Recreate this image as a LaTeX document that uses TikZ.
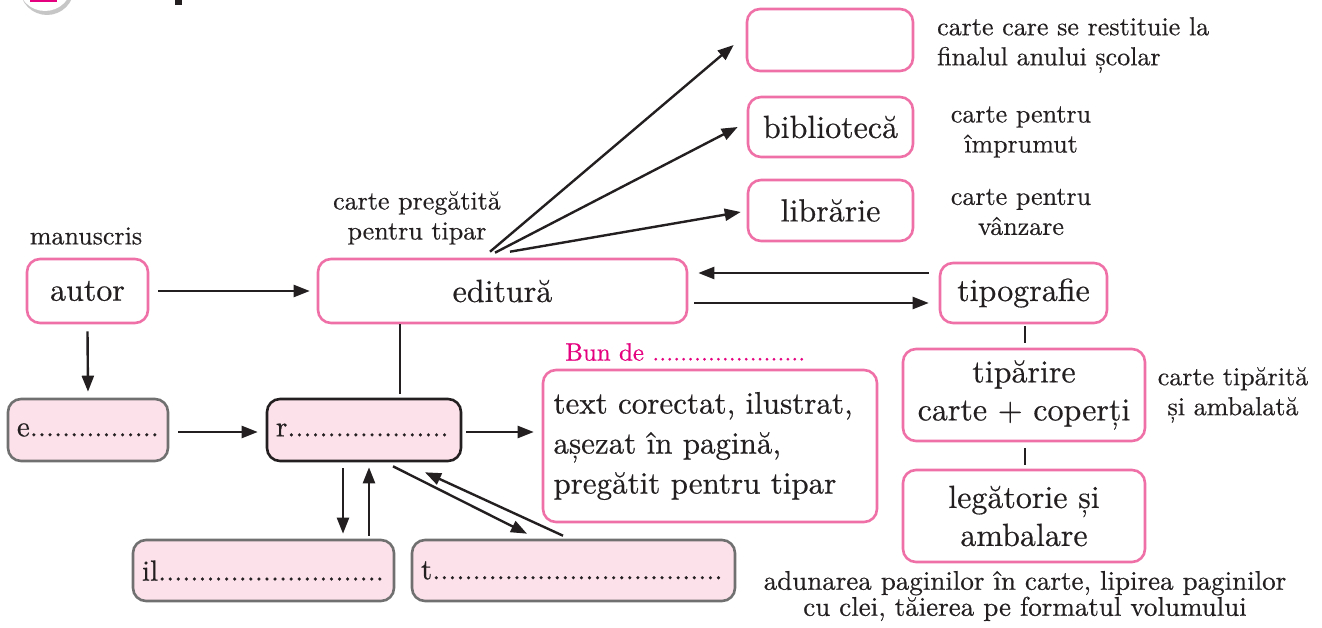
\documentclass[tikz,border=0pt]{standalone}
\usepackage{fontspec}
\setmainfont{lmroman10-regular.otf}[FakeBold=0.5]
\usetikzlibrary{arrows.meta,shadows}
\definecolor{pk}{RGB}{238,112,166}
\definecolor{pkfill}{RGB}{252,224,234}
\definecolor{gr}{RGB}{112,112,112}
\definecolor{mg}{RGB}{228,0,126}
\definecolor{ink}{RGB}{35,31,32}
\begin{document}
\begin{tikzpicture}[x=1pt,y=-1pt,
  pbox/.style={draw=pk, line width=2.6pt, rounded corners=13pt, fill=white, font=\fontsize{32}{38}\selectfont, text=ink, align=center, inner sep=0pt},
  fbox/.style={draw=gr, line width=2.6pt, rounded corners=13pt, fill=pkfill, font=\fontsize{29}{36}\selectfont, text=ink, inner xsep=9pt, inner ysep=0pt, align=left},
  lbl/.style={font=\fontsize{26}{30}\selectfont, text=ink, align=center, inner sep=0pt},
  arr/.style={draw=ink, line width=2.4pt, -{Triangle[length=16pt,width=12pt]}},
  ln/.style={draw=ink, line width=2.4pt}]
\useasboundingbox (0,0) rectangle (1322,628);
\clip (0,0) rectangle (1322,628);
% cut-off badge at the top
\node[circle, fill=white, minimum size=54pt, drop shadow={shadow xshift=2pt, shadow yshift=-4pt, opacity=.45}] (badge) at (45,-16) {};
\fill[mg] (30,-3) rectangle (57,2);
\fill[ink] (175,-3) rectangle (182,5);
% boxes
\node[pbox, minimum width=166pt, minimum height=62pt] (blank) at (830,40) {};
\node[pbox, minimum width=165pt, minimum height=60pt] (bib) at (830.5,127) {bibliotecă};
\node[pbox, minimum width=165pt, minimum height=61pt] (lib) at (830.5,210.5) {librărie};
\node[pbox, minimum width=369pt, minimum height=64pt] (edit) at (502.5,291) {editură};
\node[pbox, minimum width=121pt, minimum height=64pt] (autor) at (87.5,291) {autor};
\node[pbox, minimum width=167pt, minimum height=60pt] (tipo) at (1023.5,293) {tipografie};
\node[pbox, minimum width=242pt, minimum height=92pt] (tipar) at (1024,395) {tipărire\\carte + coperți};
\node[pbox, minimum width=242pt, minimum height=92pt] (leg) at (1024,516) {legătorie și\\ambalare};
\node[fbox, minimum width=160pt, minimum height=62pt, text width=142pt] (e) at (88,430) {e................};
\node[fbox, draw=ink, minimum width=194pt, minimum height=62pt, text width=176pt] (r) at (364,430) {r....................};
\node[fbox, minimum width=261pt, minimum height=61pt, text width=243pt] (il) at (263.5,570.5) {il............................};
\node[fbox, minimum width=323pt, minimum height=61pt, text width=305pt] (t) at (573.5,570.5) {t....................................};
\node[pbox, minimum width=334pt, minimum height=152pt, font=\fontsize{31}{40}\selectfont, align=left, text width=313pt] (txt) at (710,446) {\makebox[313pt][s]{text corectat, ilustrat,}\\așezat în pagină,\\pregătit pentru tipar};
% labels
\node[lbl] (lman) at (86,236) {manuscris};
\node[lbl] (lprep) at (417,218) {carte pregătită\\pentru tipar};
\node[lbl, anchor=west, align=left] (lrest) at (937,45) {carte care se restituie la\\finalul anului școlar};
\node[lbl] (limp) at (1021,132) {carte pentru\\împrumut};
\node[lbl] (lvanz) at (1021,212) {carte pentru\\vânzare};
\node[lbl] (ltip) at (1233,395) {carte tipărită\\și ambalată};
\node[lbl, font=\fontsize{27}{26}\selectfont] (ladun) at (1025,596) {adunarea paginilor în carte, lipirea paginilor\\cu clei, tăierea pe formatul volumului};
\node[lbl, anchor=west, text=mg, font=\fontsize{25}{30}\selectfont] (bun) at (565,352) {Bun de ......................};
% connectors
\draw[arr] ([xshift=9pt]autor.east) -- ([xshift=-7pt]edit.west);
\draw[arr] ([yshift=-7pt]autor.south) -- ([yshift=6pt]e.north);
\draw[arr] ([xshift=9pt,yshift=-2pt]e.east) -- ([xshift=-8pt,yshift=-2pt]r.west);
\draw[arr] ([xshift=4pt,yshift=-2pt]r.east) -- ([xshift=-8pt,yshift=14pt]txt.west);
\draw[ln] ([xshift=-102.5pt]edit.south) -- ([xshift=36pt,yshift=4pt]r.north);
\draw[arr] ([xshift=-21pt,yshift=-6pt]r.south) -- ([xshift=79.5pt,yshift=5pt]il.north);
\draw[arr] ([xshift=105.5pt,yshift=3pt]il.north) -- ([xshift=5pt,yshift=-5pt]r.south);
\draw[arr] ([xshift=29pt,yshift=-4pt]r.south) -- ([xshift=-46.5pt,yshift=5pt]t.north);
\draw[arr] ([xshift=-10.5pt,yshift=3pt]t.north) -- ([xshift=61pt,yshift=-10pt]r.south);
\draw[arr] ([xshift=-10pt,yshift=20pt]tipo.west) -- ([xshift=10pt,yshift=18pt]edit.east);
\draw[arr] ([xshift=6pt,yshift=-12pt]edit.east) -- ([xshift=-10pt,yshift=-10pt]tipo.west);
\draw[ln] ([xshift=1.5pt,yshift=-2pt]tipo.south) -- ([xshift=1pt,yshift=5pt]tipar.north);
\draw[ln] ([xshift=1pt,yshift=-6pt]tipar.south) -- ([xshift=1pt,yshift=4pt]leg.north);
\draw[arr] ([xshift=-12.5pt,yshift=6pt]edit.north) -- ([xshift=-12pt,yshift=-5pt]blank.west);
\draw[arr] ([xshift=-7.5pt,yshift=5pt]edit.north) -- ([xshift=-9pt]bib.west);
\draw[arr] ([xshift=7.5pt,yshift=6pt]edit.north) -- ([xshift=-6pt,yshift=-1.5pt]lib.west);
\end{tikzpicture}
\end{document}
